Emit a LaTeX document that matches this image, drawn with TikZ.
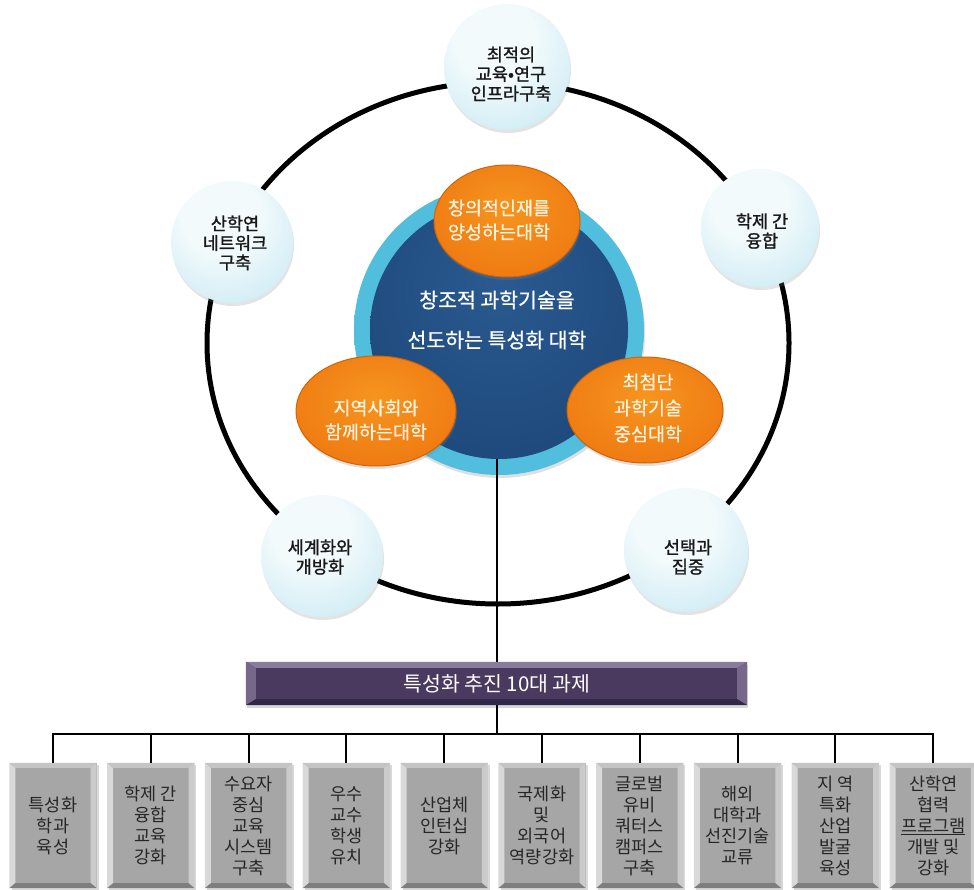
\documentclass[tikz,border=0pt]{standalone}
\usepackage{fontspec}
\setmainfont{Noto Sans CJK KR}
\newfontfamily\krbold[FakeBold=1.3]{Noto Sans CJK KR}
\newfontfamily\krsemi[FakeBold=0.6]{Noto Sans CJK KR}
\usetikzlibrary{shapes.geometric,shadows}
\definecolor{skyA}{HTML}{F2FAFC}
\definecolor{skyB}{HTML}{C6E8F2}
\definecolor{skyC}{HTML}{93CFE2}
\definecolor{orA}{HTML}{F6951F}
\definecolor{orB}{HTML}{EF7A12}
\definecolor{orC}{HTML}{D66200}
\definecolor{ringA}{HTML}{52BEDD}
\definecolor{ringB}{HTML}{2A8DB5}
\definecolor{navy}{HTML}{1F4A7D}
\definecolor{navyB}{HTML}{2A5A90}
\definecolor{plum}{HTML}{4A3A5F}
\definecolor{plumL}{HTML}{8A7C9E}
\definecolor{plumD}{HTML}{33284A}
\definecolor{boxface}{HTML}{A6A6A6}
\definecolor{boxL}{HTML}{D9D9D9}
\definecolor{boxT}{HTML}{C4C4C4}
\definecolor{boxD}{HTML}{7E7E7E}
\definecolor{cream}{HTML}{FFF4E2}
\pgfdeclareradialshading{skyball}{\pgfpoint{-6bp}{14bp}}{color(0bp)=(skyA); color(16bp)=(skyA); color(42bp)=(skyB); color(60bp)=(skyC); color(80bp)=(skyC)}
\pgfdeclareradialshading{orball}{\pgfpoint{0bp}{6bp}}{color(0bp)=(orA); color(30bp)=(orB); color(48bp)=(orB); color(54bp)=(orC); color(80bp)=(orC)}
\pgfdeclareradialshading{ringball}{\pgfpoint{0bp}{0bp}}{color(0bp)=(ringA); color(40bp)=(ringA); color(46bp)=(ringA!70!white); color(50bp)=(ringB); color(80bp)=(ringB)}
\pgfdeclareradialshading{navyball}{\pgfpoint{0bp}{10bp}}{color(0bp)=(navyB); color(30bp)=(navy); color(80bp)=(navy)}
\begin{document}
\begin{tikzpicture}[x=1pt,y=-1pt,
  skyc/.style={circle,shading=skyball,minimum size=#1,inner sep=0pt,
    drop shadow={opacity=0.22,shadow xshift=1pt,shadow yshift=-3pt}},
  skyt/.style={align=center,font=\krbold\fontsize{17.5}{19.5}\selectfont,text=black!90,inner sep=0pt},
  orng/.style={ellipse,shading=orball,draw=orC,line width=1pt,inner sep=0pt,
    drop shadow={opacity=0.25,shadow xshift=1pt,shadow yshift=-3pt}},
  orngt/.style={align=center,font=\krsemi\fontsize{18.5}{24}\selectfont,text=cream,inner sep=0pt},
  taskbox/.style={rectangle,fill=boxface,minimum width=87pt,minimum height=125pt,inner sep=0pt,
    drop shadow={opacity=0.3,shadow xshift=2pt,shadow yshift=-2pt}},
  taskt/.style={align=center,font=\fontsize{17.5}{21}\selectfont,text=black!85,inner sep=0pt},
  wire/.style={draw=black,line width=2pt}
]
\useasboundingbox (0,0) rectangle (974,890);

% big ring
\draw[line width=5pt] (498,343) ellipse (291 and 261);

% core
\node[circle,shading=ringball,minimum size=290pt,inner sep=0pt,
  drop shadow={opacity=0.25,shadow xshift=1pt,shadow yshift=-3pt}] (ring) at (499,330) {};
\node[circle,shading=navyball,minimum size=258pt,inner sep=0pt] (core) at (499,330) {};
\node[align=center,font=\krsemi\fontsize{20.5}{40}\selectfont,text=white,inner sep=0pt] (coret) at (497,320)
  {창조적 과학기술을\\선도하는 특성화 대학};

% orange ellipses
\node[orng,minimum width=146pt,minimum height=112pt] (o1) at (507,221) {};
\node[orngt] (o1t) at (499,220) {창의적인재를\\양성하는대학};
\node[orng,minimum width=160pt,minimum height=110pt] (o2) at (376,411) {};
\node[orngt] (o2t) at (376,420) {지역사회와\\함께하는대학};
\node[orng,minimum width=156pt,minimum height=106pt] (o3) at (645,410) {};
\node[orngt,font=\krsemi\fontsize{18.5}{26}\selectfont] (o3t) at (648,408) {최첨단\\과학기술\\중심대학};

% satellites
\node[skyc=126pt] (c1) at (507,67) {};
\node[skyt] (c1t) at (511,74) {최적의\\교육•연구\\인프라구축};
\node[skyc=118pt] (c2) at (760,228) {};
\node[skyt] (c2t) at (762,231) {학제 간\\융합};
\node[skyc=122pt] (c3) at (232,242) {};
\node[skyt] (c3t) at (235,243) {산학연\\네트워크\\구축};
\node[skyc=122pt] (c4) at (322,556) {};
\node[skyt] (c4t) at (320,557) {세계화와\\개방화};
\node[skyc=124pt] (c5) at (686,550) {};
\node[skyt] (c5t) at (688,557) {선택과\\집중};

% banner
\node[rectangle,fill=plum,minimum width=501pt,minimum height=43pt,inner sep=0pt,
  drop shadow={opacity=0.3,shadow xshift=1pt,shadow yshift=-3pt}] (banner) at (496.5,683.5) {};
\fill[plumL] (banner.north west) -- (banner.north east) -- ([shift={(-10,6)}]banner.north east) -- ([shift={(10,6)}]banner.north west) -- cycle;
\fill[plumL!70!plum] (banner.north west) -- ([shift={(10,6)}]banner.north west) -- ([shift={(10,-6)}]banner.south west) -- (banner.south west) -- cycle;
\fill[plumL!70!plum] (banner.north east) -- ([shift={(-10,6)}]banner.north east) -- ([shift={(-10,-6)}]banner.south east) -- (banner.south east) -- cycle;
\fill[plumD] (banner.south west) -- ([shift={(10,-6)}]banner.south west) -- ([shift={(-10,-6)}]banner.south east) -- (banner.south east) -- cycle;
\node[font=\fontsize{20.5}{22}\selectfont,text=white,inner sep=0pt] (bannert) at (497,684) {특성화 추진 10대 과제};

% connectors
\draw[wire] (banner.north |- core.south) -- (banner.north);
\draw[wire] (banner.south) -- ++(0,29) coordinate (bus);

% task boxes
\foreach \i/\t in {1/{특성화\\학과\\육성},2/{학제 간\\융합\\교육\\강화},3/{수요자\\중심\\교육\\시스템\\구축},
  4/{우수\\교수\\학생\\유치},5/{산업체\\인턴십\\강화},6/{국제화\\및\\외국어\\역량강화},
  7/{글로벌\\유비\\쿼터스\\캠퍼스\\구축},8/{해외\\대학과\\선진기술\\교류},
  9/{지 역\\특화\\산업\\발굴\\육성},10/{산학연\\협력\\\underline{프로그램}\\개발 및\\강화}}{
  \node[taskbox] (b\i) at ({53+97.8*(\i-1)},825.5) {};
  \fill[boxL] (b\i.north west) -- (b\i.south west) -- ([shift={(6,-5)}]b\i.south west) -- ([shift={(6,5)}]b\i.north west) -- cycle;
  \fill[boxT] (b\i.north west) -- (b\i.north east) -- ([shift={(-6,5)}]b\i.north east) -- ([shift={(6,5)}]b\i.north west) -- cycle;
  \fill[boxL!85!gray] (b\i.north east) -- (b\i.south east) -- ([shift={(-6,-5)}]b\i.south east) -- ([shift={(-6,5)}]b\i.north east) -- cycle;
  \fill[boxD] (b\i.south west) -- (b\i.south east) -- ([shift={(-6,-5)}]b\i.south east) -- ([shift={(6,-5)}]b\i.south west) -- cycle;
  \node[taskt] (b\i t) at (b\i.center) {\t};
  \draw[wire] (b\i.north) -- (b\i.north |- bus);
}
\draw[wire,line cap=rect] (b1.north |- bus) -- (b10.north |- bus);
\end{tikzpicture}
\end{document}
